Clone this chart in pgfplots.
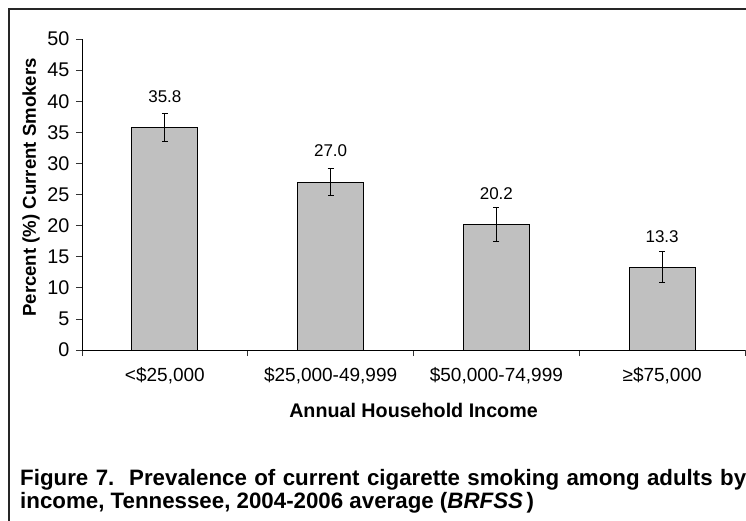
\documentclass[border=0pt]{standalone}
\usepackage{pgfplots}
\pgfplotsset{compat=1.18}
\usepackage{fontspec}
\setmainfont{Liberation Sans}
\usetikzlibrary{calc}
\definecolor{bargray}{HTML}{C0C0C0}
\begin{document}
\begin{tikzpicture}
\path[use as bounding box] (0,0) rectangle (746pt,520pt);
\draw[line width=2pt, black!85] (9pt,-5pt) -- (9pt,511pt) -- (752pt,511pt);
\begin{axis}[
  at={(82pt,170pt)}, anchor=south west,
  scale only axis, width=663pt, height=311pt,
  xmin=0, xmax=4, ymin=0, ymax=50,
  axis x line=bottom, axis y line=left,
  axis line style={-, line width=0.8pt, black},
  ytick={0,5,...,50},
  xtick={0,1,2,3,4}, xticklabels={},
  extra x ticks={0.5,1.5,2.5,3.5},
  extra x tick labels={{<\$25,000}, {\$25,000-49,999}, {\$50,000-74,999}, {≥\$75,000}},
  extra x tick style={major tick length=0pt},
  tick align=outside, major tick length=6pt,
  tick style={black!80, line width=0.8pt},
  yticklabel style={font=\fontsize{19.8}{22}\selectfont, xshift=-3pt},
  xticklabel style={font=\fontsize{19}{22}\selectfont, yshift=-14pt},
  /pgf/number format/assume math mode=true,
  ylabel={Percent (\%) Current Smokers},
  ylabel style={font=\bfseries\fontsize{18.6}{22}\selectfont, at={($(axis description cs:0,0.5)+(-51pt,7pt)$)}, anchor=center},
  xlabel={Annual Household Income},
  xlabel style={font=\bfseries\fontsize{19.7}{22}\selectfont, at={($(axis description cs:0.5,0)+(0,-60pt)$)}, anchor=center},
  ybar, bar width=66pt,
  nodes near coords={\pgfmathprintnumber[fixed,fixed zerofill,precision=1]{\pgfplotspointmeta}},
  nodes near coords style={font=\fontsize{17}{19}\selectfont, anchor=center, yshift=31pt},
  clip=false,
]
\addplot[fill=bargray, draw=black, line width=0.8pt,
  error bars/.cd, y dir=both, y explicit,
  error bar style={line width=0.8pt, black},
  error mark options={rotate=90, mark size=3pt, line width=0.8pt, black}]
  coordinates {
    (0.5,35.8) +- (0,2.2)
    (1.5,27.0) +- (0,2.2)
    (2.5,20.2) +- (0,2.7)
    (3.5,13.3) +- (0,2.5)
  };
\end{axis}
\node[anchor=north west, inner sep=0pt, text width=726pt, align=justify,
  font=\bfseries\fontsize{22.3}{23.5}\selectfont] at (20pt,51pt)
  {Figure 7.\ \ Prevalence of current cigarette smoking among adults by\linebreak income, Tennessee, 2004-2006 average (\textit{BRFSS}\,)};
\end{tikzpicture}
\end{document}
